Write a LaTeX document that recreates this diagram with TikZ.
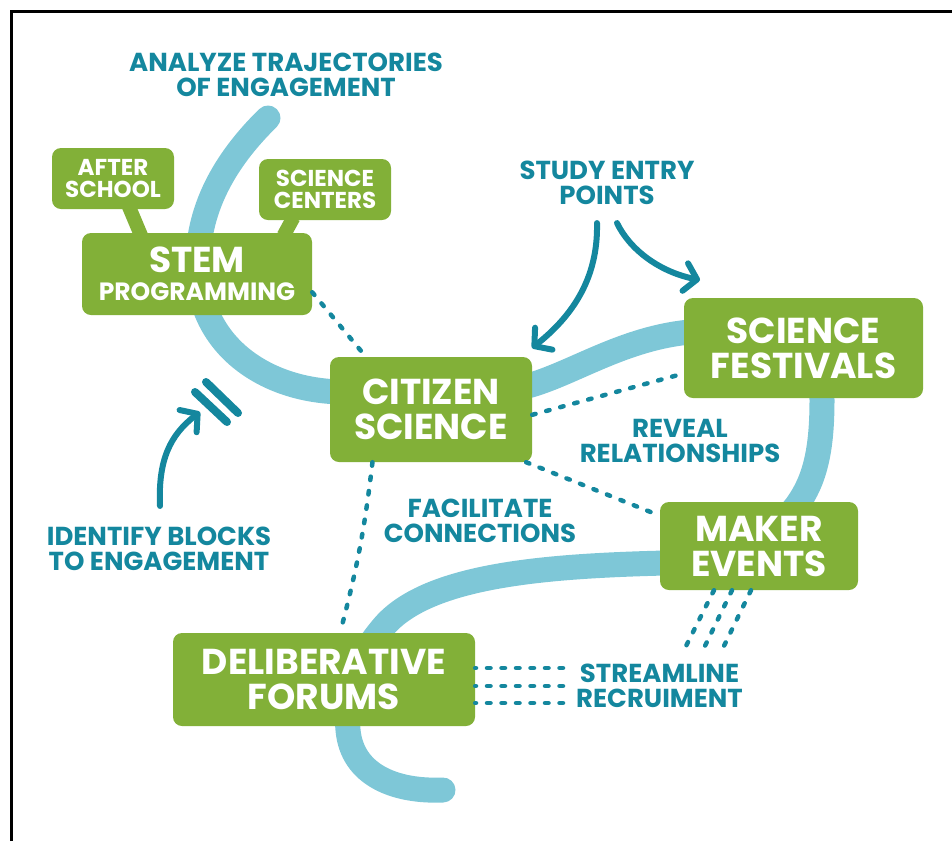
\documentclass[tikz,border=0pt]{standalone}
\usepackage{fontspec}
\setmainfont{Poppins}
\usetikzlibrary{arrows.meta,positioning}
\definecolor{leaf}{HTML}{82B038}
\definecolor{ink}{HTML}{14879E}
\definecolor{bandblue}{HTML}{7EC7D7}
\tikzset{
  hub/.style={fill=leaf, text=white, rounded corners=9pt, align=center, inner sep=0pt,
    font=\bfseries\fontsize{36}{35}\selectfont},
  tag/.style={hub, font=\bfseries\fontsize{23}{22}\selectfont},
  lbl/.style={text=ink, align=center, inner sep=0pt, font=\bfseries\fontsize{26}{25}\selectfont},
  trail/.style={draw=bandblue, line width=25pt, line cap=round},
  dots/.style={draw=ink, line width=4.5pt, line cap=round, dash pattern=on 3.5pt off 11pt},
  tail/.style={draw=leaf, line width=14pt, shorten <=-3pt, shorten >=-3pt},
  bent/.style={draw=ink, line width=6pt, line cap=round, -{Straight Barb[length=12pt, width=28pt, round]}},
  blockmark/.style={draw=ink, line width=8pt, line cap=round},
}

\begin{document}
\begin{tikzpicture}[x=1pt,y=-1pt]
\useasboundingbox (0,0) rectangle (952,841);
\draw[line width=2.5pt] (11.3,841) -- (11.3,11.3) -- (952,11.3);

% the trajectory band behind everything
\draw[trail] (268,118) .. controls (225,160) and (196,210) .. (198,270)
  .. controls (200,345) and (265,392) .. (345,392)
  .. controls (420,392) and (480,400) .. (531,385)
  .. controls (575,372) and (625,338) .. (690,332)
  .. controls (780,324) and (822,350) .. (822,400)
  .. controls (822,450) and (815,480) .. (797,505)
  .. controls (775,535) and (725,560) .. (665,563)
  .. controls (545,566) and (430,575) .. (385,625)
  .. controls (350,665) and (345,700) .. (348,730)
  .. controls (352,775) and (395,792) .. (443,790);

% boxes
\node[tag, minimum width=122pt, minimum height=61pt] (after) at (113,178.5) {AFTER\\SCHOOL};
\node[tag, minimum width=132pt, minimum height=61pt] (centers) at (325,189.5) {SCIENCE\\CENTERS};
\draw[tail] ([xshift=17pt]after.south) -- (140,233);
\draw[tail] ([xshift=-33pt]centers.south) -- (285,233);
\node[hub, minimum width=230pt, minimum height=82pt] (stem) at (197,274)
  {STEM\\[-7pt]{\fontsize{25}{25}\selectfont PROGRAMMING}};
\node[hub, minimum width=202pt, minimum height=105pt] (citizen) at (431,409.5) {CITIZEN\\SCIENCE};
\node[hub, minimum width=239pt, minimum height=100pt] (festivals) at (803.5,348) {SCIENCE\\FESTIVALS};
\node[hub, minimum width=198pt, minimum height=88pt] (maker) at (759,546) {MAKER\\EVENTS};
\node[hub, minimum width=302pt, minimum height=93pt] (forums) at (324,679.5) {DELIBERATIVE\\FORUMS};

% labels
\node[lbl] (analyze) at (286,75) {ANALYZE TRAJECTORIES\\OF ENGAGEMENT};
\node[lbl] (study) at (607,183) {STUDY ENTRY\\POINTS};
\node[lbl] (reveal) at (680,441) {REVEAL\\RELATIONSHIPS};
\node[lbl] (facil) at (480,521) {FACILITATE\\CONNECTIONS};
\node[lbl] (identify) at (159,549) {IDENTIFY BLOCKS\\TO ENGAGEMENT};
\node[lbl, anchor=west] (stream) at (576,686) {STREAMLINE\\RECRUIMENT};

% dotted links
\draw[dots] (stem.-9) -- (citizen.141);
\draw[dots] (citizen.-138) to[bend left=4] (forums.71);
\draw[dots] (citizen.-3) -- (festivals.-168);
\draw[dots] (citizen.-29) -- (maker.163);
\foreach \dx/\ex in {-45/108,-27/127,-8/146}
  \draw[dots] ([xshift=\dx pt]maker.south) -- ([shift={(\ex,-36)}]stream.west);
\foreach \s in {18,0,-17}
  \draw[dots] ([shift={(-13,0)},yshift=\s pt]stream.west) -- ([yshift=\s pt]stream.west -| forums.east);

% curved arrows
\coordinate (citin) at (532,348);
\coordinate (festin) at (700,280);
\coordinate (blockin) at (200,412);
\draw[bent] ([shift={(-10,18)}]study.south) .. controls (598,270) and (580,310) .. (citin);
\draw[bent] ([shift={(10,18)}]study.south) .. controls (630,250) and (660,272) .. (festin);
\draw[bent] ([shift={(1,-21)}]identify.north) .. controls (158,460) and (170,435) .. (blockin);

% blocks on the trajectory
\draw[blockmark] (195,392) -- (227,422);
\draw[blockmark] (206,382) -- (238,413);
\end{tikzpicture}
\end{document}
